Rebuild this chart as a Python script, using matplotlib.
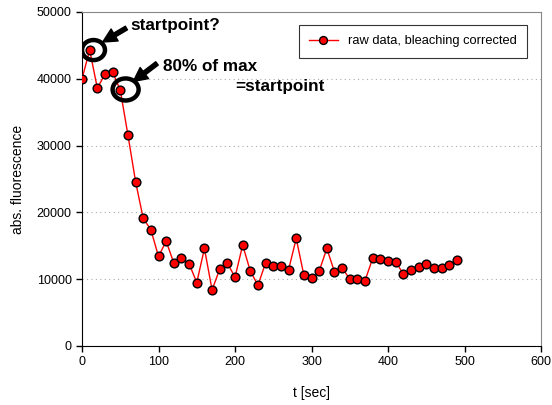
import matplotlib.pyplot as plt
from matplotlib.patches import Ellipse

plt.rcParams['font.family'] = ['Liberation Sans', 'DejaVu Sans']

# time points [sec] and bleaching-corrected fluorescence
t_sec = [0, 10, 20, 30, 40, 50, 60, 70, 80, 90,
         100, 110, 120, 130, 140, 150, 160, 170, 180, 190,
         200, 210, 220, 230, 240, 250, 260, 270, 280, 290,
         300, 310, 320, 330, 340, 350, 360, 370, 380, 390,
         400, 410, 420, 430, 440, 450, 460, 470, 480, 490]
fluorescence = [40000, 44300, 38600, 40700, 41000, 38300, 31600, 24600, 19100, 17400,
                13400, 15700, 12400, 13200, 12300, 9500, 14600, 8400, 11500, 12400,
                10300, 15100, 11200, 9100, 12450, 11900, 12000, 11400, 16100, 10600,
                10200, 11200, 14600, 11100, 11700, 10000, 10050, 9800, 13150, 13050,
                12700, 12600, 10800, 11400, 11850, 12200, 11700, 11650, 12100, 12800]

x_ticks = [0, 100, 200, 300, 400, 500, 600]
y_ticks = [0, 10000, 20000, 30000, 40000, 50000]

fig = plt.figure(figsize=(5.52, 4.05), dpi=100)
ax = fig.add_axes([0.1486, 0.1457, 0.8315, 0.8247])

ax.plot(t_sec, fluorescence, color='red', linewidth=1, marker='o',
        markersize=6.3, markerfacecolor='red', markeredgecolor='black',
        markeredgewidth=1, label='raw data, bleaching corrected', zorder=3)

ax.set_xlim(0, 600)
ax.set_ylim(0, 50000)
ax.set_xticks(x_ticks)
ax.set_yticks(y_ticks)
ax.tick_params(direction='out', length=4, width=1, labelsize=9, colors='black')
ax.yaxis.grid(True, linestyle=(0, (1, 3)), color='#aaaaaa', linewidth=0.8)
ax.set_axisbelow(True)

for side in ['top', 'right']:
    ax.spines[side].set_color('#888888')
for side in ['left', 'bottom']:
    ax.spines[side].set_color('black')

ax.set_xlabel('t [sec]', fontsize=10, labelpad=13)
ax.set_ylabel('abs. fluorescence', fontsize=10, labelpad=8)

leg = ax.legend(loc='upper right', bbox_to_anchor=(0.9695, 0.961), fontsize=9.3,
                frameon=True, fancybox=False, edgecolor='black',
                handlelength=2.2, borderpad=0.8, borderaxespad=0,
                markerscale=0.9)
leg.get_frame().set_linewidth(0.8)

# highlight candidate start points
for cx, cy, w, h in [(15, 44300, 30, 3000), (57, 38400, 34, 3300)]:
    ax.add_patch(Ellipse((cx, cy), w, h, fill=False,
                         edgecolor='black', linewidth=3.2, zorder=4))

arrow_style = 'simple,head_width=1.0,head_length=1.0,tail_width=0.3'
ax.annotate('', xy=(27, 45500), xytext=(58, 47600),
            arrowprops=dict(arrowstyle=arrow_style, color='black',
                            shrinkA=0, shrinkB=0))
ax.annotate('', xy=(67, 39600), xytext=(98, 42300),
            arrowprops=dict(arrowstyle=arrow_style, color='black',
                            shrinkA=0, shrinkB=0))

ax.text(63, 48050, 'startpoint?', fontsize=12.3, fontweight='bold',
        va='center', ha='left')
ax.text(106, 41900, '80% of max', fontsize=12.3, fontweight='bold',
        va='center', ha='left')
ax.text(200, 38800, '=startpoint', fontsize=12.3, fontweight='bold',
        va='center', ha='left')

fig.savefig('out.png', dpi=100)
